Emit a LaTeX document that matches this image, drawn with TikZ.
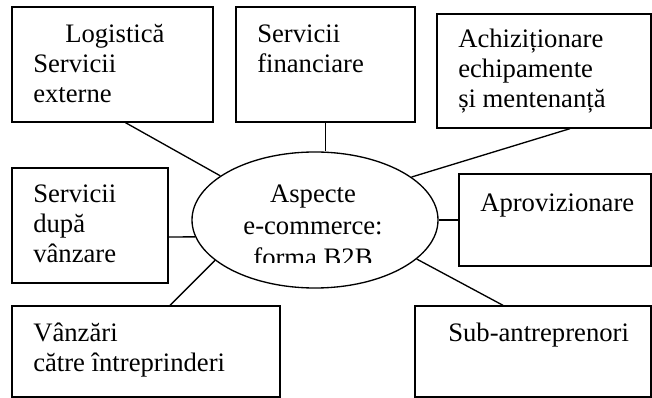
\documentclass[tikz,border=0pt]{standalone}
\usepackage{fontspec}
\setmainfont{Liberation Serif}
\usetikzlibrary{shapes.geometric,fit,calc}
\tikzset{
  box/.style={draw,line width=1pt,inner sep=0pt},
  link/.style={line width=1pt},
  boxtext/.style={anchor=base west,align=left,inner sep=0pt,font=\fontsize{20}{22.5}\selectfont},
  coretext/.style={anchor=base,align=center,inner sep=0pt,font=\fontsize{20}{24}\selectfont},
}
\begin{document}
\begin{tikzpicture}[x=0.75pt,y=-0.75pt]
  \useasboundingbox (0,0) rectangle (652,398);
  % boxes
  \node[box,fit={(12,7) (213,122)}] (logi) {};
  \node[box,fit={(236,7) (415,122)}] (fin) {};
  \node[box,fit={(437,14) (651,128)}] (achiz) {};
  \node[box,fit={(12,168) (168,283)}] (post) {};
  \node[box,fit={(459,174) (651,266)}] (aprov) {};
  \node[box,fit={(12,306) (280,397)}] (vanz) {};
  \node[box,fit={(415,306) (651,397)}] (sub) {};
  % centre
  \node[draw,ellipse,line width=1pt,minimum width=184.5pt,minimum height=102pt,inner sep=0pt] (core) at (315,220) {};
  % text (placed at the baseline of the last line)
  \node[boxtext] (logi-t) at (33,103) {\hspace*{24pt}Logistică\\Servicii\\externe};
  \node[boxtext] (fin-t) at (257,73) {Servicii\\financiare};
  \node[boxtext] (achiz-t) at (458,108) {Achiziționare\\echipamente\\și mentenanță};
  \node[boxtext] (post-t) at (33,263) {Servicii\\după\\vânzare};
  \node[boxtext] (aprov-t) at (480,212) {Aprovizionare};
  \node[boxtext] (vanz-t) at (33,371) {Vânzări\\către întreprinderi};
  \node[boxtext] (sub-t) at (448,342) {Sub-antreprenori};
  \begin{scope}
    \clip (192,150) rectangle (440,263);
    \node[coretext] (core-t) at (313,267) {Aspecte\\e-commerce:\\forma B2B};
  \end{scope}
  % links
  \draw[link] ($(logi.south)+(13,0)$) -- (core.155);
  \draw[link] (fin.south) -- (fin.south |- core.north);
  \draw[link] ($(achiz.south)+(26,0)$) -- (core.24);
  \draw[link] ($(post.east)+(0,11.5)$) -- (core.188);
  \draw[link] (aprov.west) -- (core.east);
  \draw[link] ($(vanz.north)+(24,0)$) -- (core.202);
  \draw[link] ($(sub.north)+(-30,0)$) -- (core.339);
\end{tikzpicture}
\end{document}
